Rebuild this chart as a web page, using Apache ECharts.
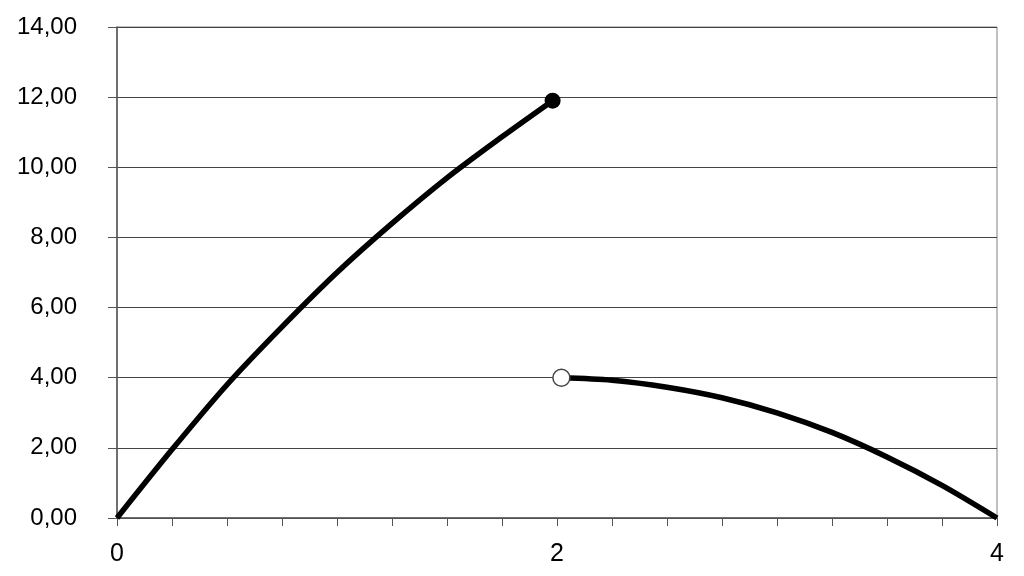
<!DOCTYPE html>
<html>
<head>
<meta charset="utf-8">
<script src="https://cdn.jsdelivr.net/npm/echarts@6/dist/echarts.min.js"></script>
<style>
  html, body { margin: 0; padding: 0; background: #fff; }
  #chart { width: 1024px; height: 576px; }
</style>
</head>
<body>
<div id="chart"></div>
<script>
  // values
  const leftX = [0, 0.25, 0.5, 0.75, 1.0, 1.25, 1.5, 1.75, 1.98];
  const leftY = [0, 1.95, 3.8, 5.45, 7.0, 8.4, 9.7, 10.87, 11.9];
  const rightX = [2.02, 2.25, 2.5, 2.75, 3.0, 3.25, 3.5, 3.75, 4.0];
  const rightY = [4.0, 3.93, 3.73, 3.43, 3.0, 2.44, 1.74, 0.93, 0];
  const closedEnd = [1.98, 11.9];
  const openEnd = [2.02, 4.0];
  const xLabels = [0, 2, 4];

  const pairs = (xs, ys) => xs.map((x, i) => [x, ys[i]]);

  const myChart = echarts.init(document.getElementById('chart'));
  const font = 'Liberation Sans, Arial, sans-serif';
  const option = {
    animation: false,
    grid: {
      left: 117, right: 27, top: 27, bottom: 58,
      show: true,
      borderColor: '#808080',
      borderWidth: 1
    },
    xAxis: {
      type: 'value',
      min: 0,
      max: 4,
      interval: 0.25,
      axisLine: { lineStyle: { color: '#555', width: 1.5 } },
      axisTick: { length: 8, lineStyle: { color: '#555', width: 1 } },
      splitLine: { show: false },
      axisLabel: {
        margin: 24,
        fontFamily: font,
        fontSize: 25,
        color: '#000',
        formatter: v => xLabels.indexOf(v) >= 0 ? String(v) : ''
      }
    },
    yAxis: {
      type: 'value',
      min: 0,
      max: 14,
      interval: 2,
      axisLine: { show: true, lineStyle: { color: '#555', width: 1.5 } },
      axisTick: { show: true, length: 9, lineStyle: { color: '#555' } },
      splitLine: { lineStyle: { color: '#444', width: 1 } },
      axisLabel: {
        margin: 40,
        fontFamily: font,
        fontSize: 24,
        color: '#000',
        formatter: v => v.toFixed(2).replace('.', ',')
      }
    },
    series: [
      {
        type: 'line',
        data: pairs(leftX, leftY),
        smooth: 0.3,
        showSymbol: false,
        lineStyle: { color: '#000', width: 5.5 }
      },
      {
        type: 'line',
        data: pairs(rightX, rightY),
        smooth: 0.3,
        showSymbol: false,
        lineStyle: { color: '#000', width: 5.5 }
      },
      {
        type: 'scatter',
        data: [closedEnd],
        symbolSize: 16,
        itemStyle: { color: '#000', opacity: 1 },
        z: 5
      },
      {
        type: 'scatter',
        data: [openEnd],
        symbolSize: 17,
        itemStyle: { color: '#fff', borderColor: '#444', borderWidth: 1.5, opacity: 1 },
        z: 5
      }
    ]
  };
  option && myChart.setOption(option);
</script>
</body>
</html>
